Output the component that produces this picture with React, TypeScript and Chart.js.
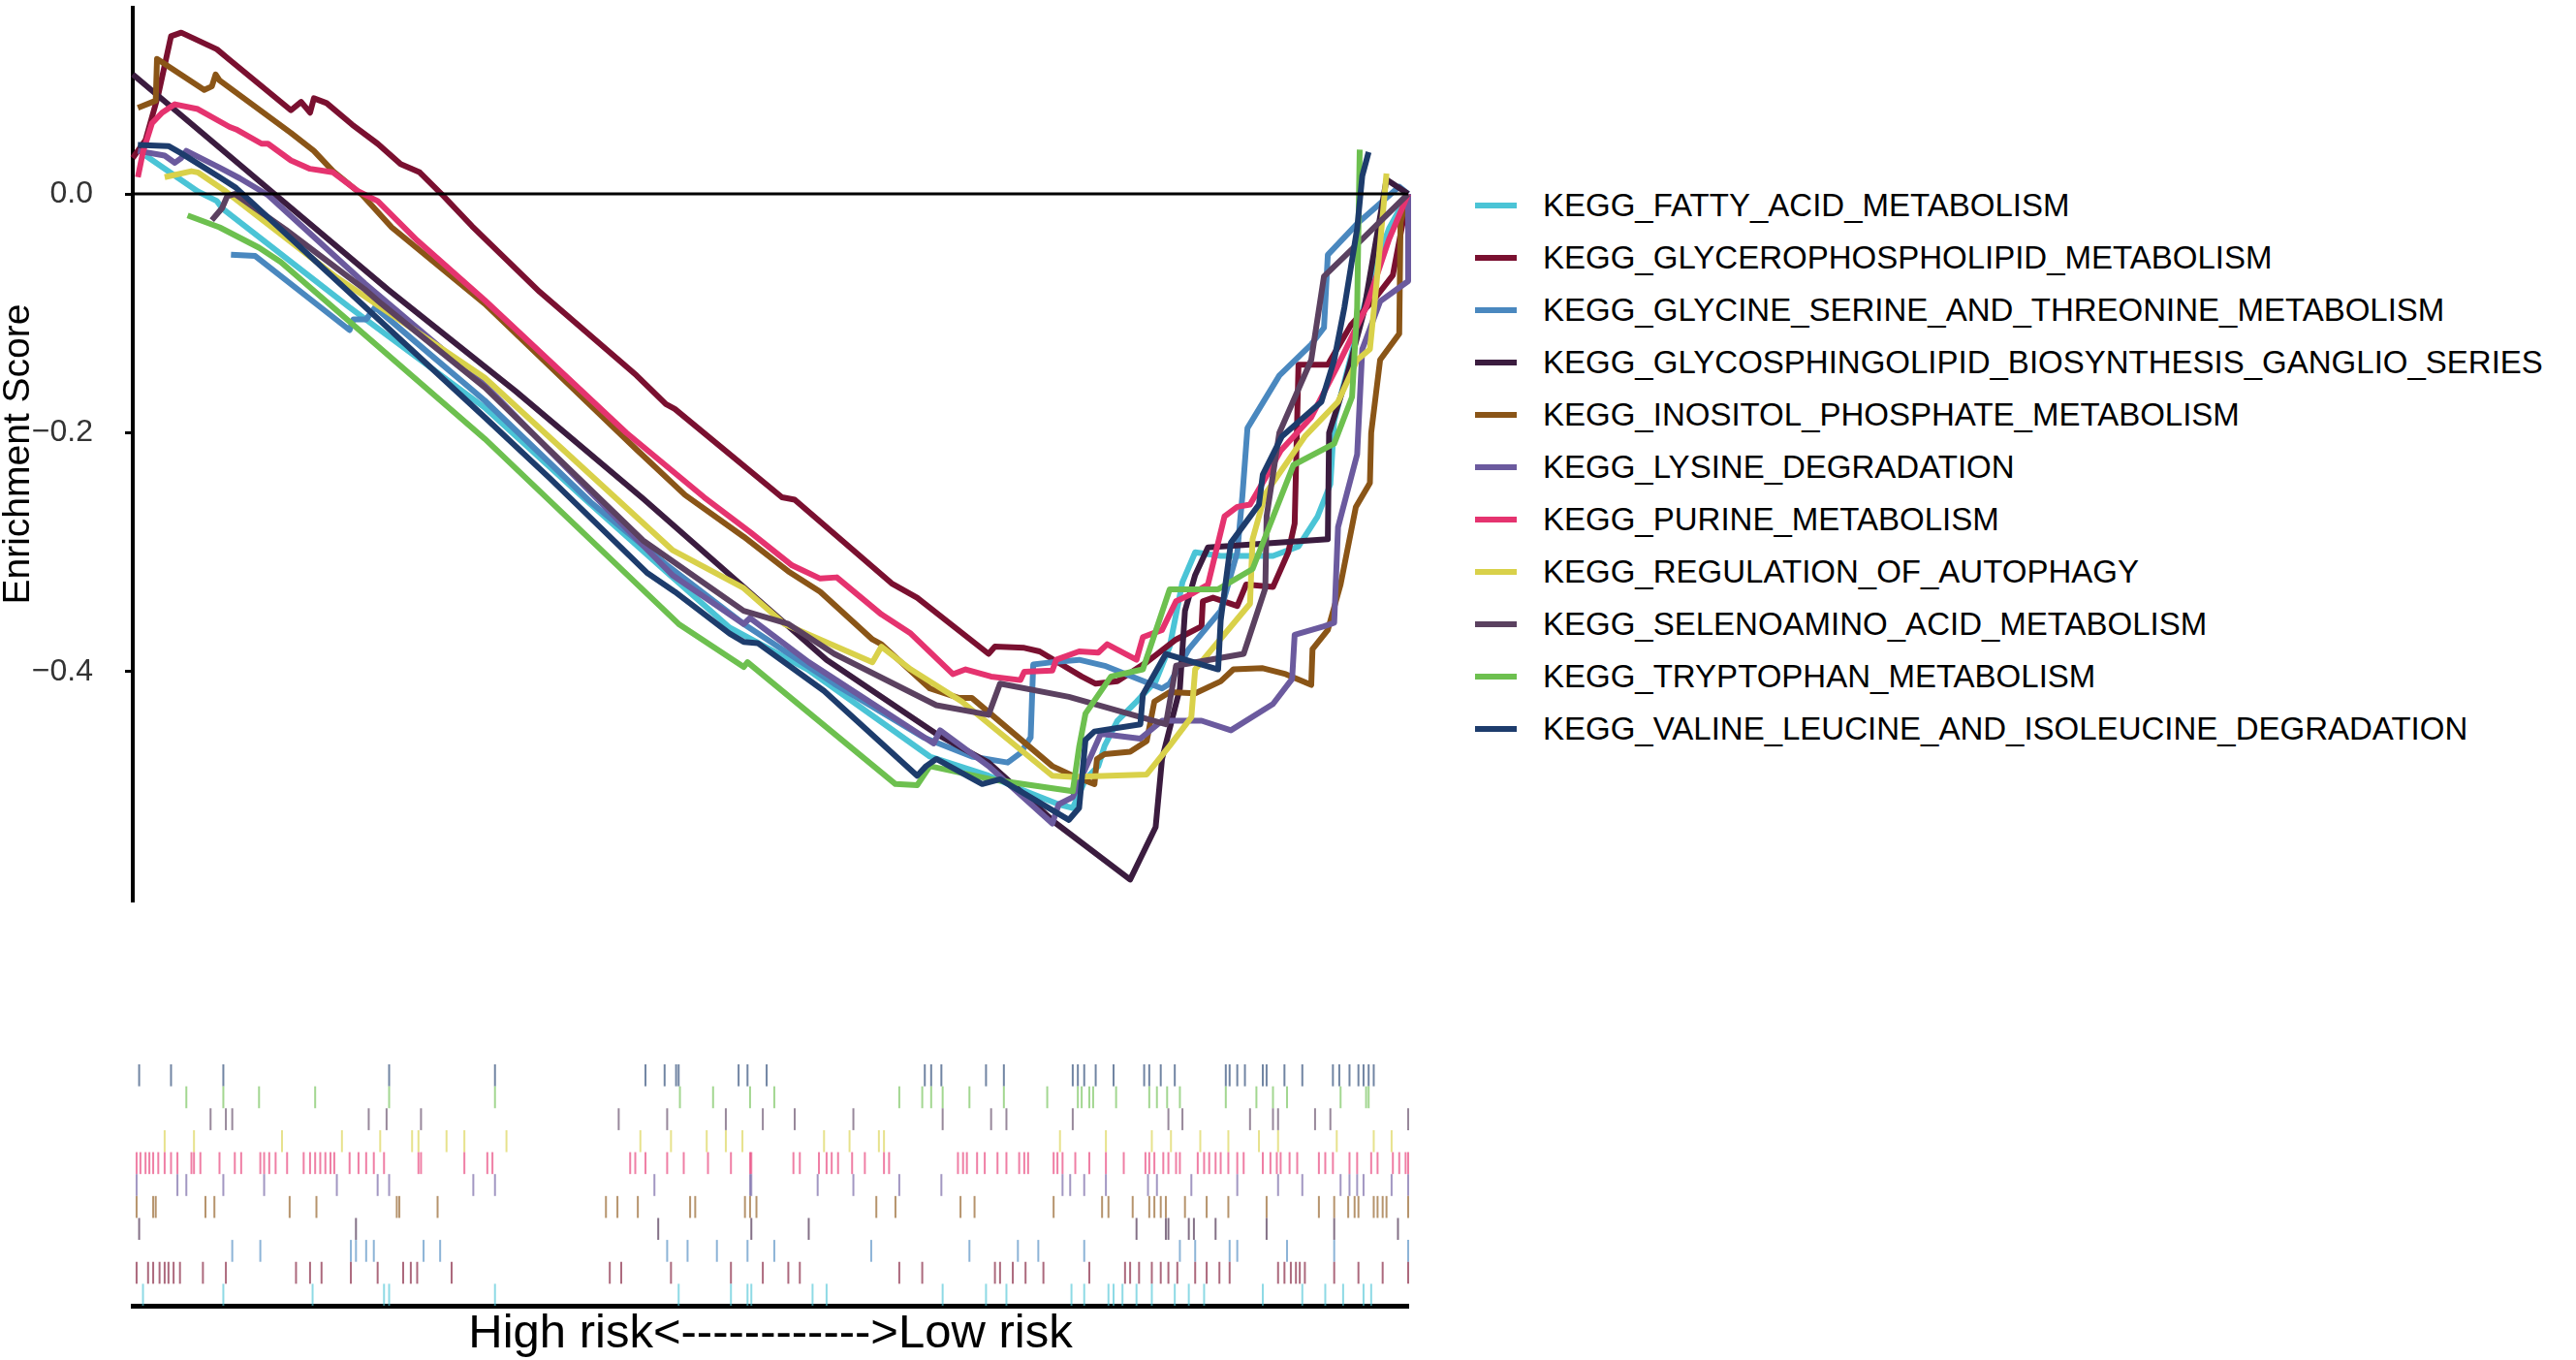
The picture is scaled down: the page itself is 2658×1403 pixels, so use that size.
import { useEffect, useRef } from "react";
import Chart from "chart.js/auto";

type Pt = [number, number];

const FONT = "'Liberation Sans', Arial, Helvetica, sans-serif";

const SERIES_NAMES = [
  "KEGG_FATTY_ACID_METABOLISM",
  "KEGG_GLYCEROPHOSPHOLIPID_METABOLISM",
  "KEGG_GLYCINE_SERINE_AND_THREONINE_METABOLISM",
  "KEGG_GLYCOSPHINGOLIPID_BIOSYNTHESIS_GANGLIO_SERIES",
  "KEGG_INOSITOL_PHOSPHATE_METABOLISM",
  "KEGG_LYSINE_DEGRADATION",
  "KEGG_PURINE_METABOLISM",
  "KEGG_REGULATION_OF_AUTOPHAGY",
  "KEGG_SELENOAMINO_ACID_METABOLISM",
  "KEGG_TRYPTOPHAN_METABOLISM",
  "KEGG_VALINE_LEUCINE_AND_ISOLEUCINE_DEGRADATION",
];

const SERIES_COLORS = [
  "#4BC4D6",
  "#7A1030",
  "#4A88BF",
  "#3B1C3F",
  "#8A5517",
  "#6B5A9E",
  "#E5336F",
  "#D9D14A",
  "#5B4160",
  "#6DC04F",
  "#1D3C6C",
];

// running enrichment score, x = position in ranked list (0-100)
const FATTY_ACID: Pt[] = [
  [1.0, 0.032], [5.1, 0.002], [6.6, -0.006], [7.0, -0.012], [17, -0.095], [27.6, -0.179],
  [35.4, -0.255], [41.8, -0.316], [46.8, -0.363], [52.9, -0.398], [62.5, -0.471], [67.1, -0.487],
  [70, -0.5], [72.6, -0.511], [73.7, -0.514], [74.7, -0.49], [75.7, -0.479], [76.2, -0.462],
  [77.2, -0.441], [78.7, -0.425], [80.2, -0.408], [81.3, -0.379], [82.3, -0.325], [83.3, -0.3],
  [85.3, -0.303], [89.4, -0.303], [91.4, -0.295], [92.9, -0.27], [93.9, -0.243], [94.2, -0.19],
  [96.2, -0.108], [97.3, -0.064], [98.5, -0.029], [100, 0],
];
const GLYCEROPHOSPHOLIPID: Pt[] = [
  [0, 0.03], [1.0, 0.045], [2.0, 0.083], [3.0, 0.132], [3.8, 0.135], [6.6, 0.121], [7.5, 0.113],
  [12.4, 0.07], [13.2, 0.077], [13.9, 0.068], [14.2, 0.08], [15.2, 0.076], [17.2, 0.058],
  [19.2, 0.042], [21.0, 0.025], [22.5, 0.018], [24.2, 0.0], [26.6, -0.027], [31.9, -0.082],
  [39.5, -0.152], [41.8, -0.176], [42.5, -0.18], [50.9, -0.254], [51.9, -0.256], [59.5, -0.326],
  [61.5, -0.338], [67.1, -0.385], [67.6, -0.379], [69.9, -0.38], [71.1, -0.383], [74.4, -0.404],
  [75.5, -0.41], [77.2, -0.408], [79.5, -0.392], [81.8, -0.373], [83.8, -0.362], [83.9, -0.341],
  [84.7, -0.338], [86.6, -0.345], [87.3, -0.327], [89.4, -0.329], [90.6, -0.3], [91.1, -0.276],
  [91.4, -0.143], [93.7, -0.143], [95.5, -0.11], [97.5, -0.086], [98.8, -0.068], [100, 0],
];
const GLYCINE_SERINE: Pt[] = [
  [7.7, -0.051], [9.6, -0.052], [17.0, -0.114], [17.3, -0.105], [18.3, -0.105], [19.0, -0.095],
  [23.5, -0.136], [27.6, -0.173], [35.9, -0.258], [41.8, -0.31], [47.9, -0.36], [55, -0.41],
  [62, -0.455], [65.8, -0.471], [68.6, -0.476], [69.6, -0.468], [70.4, -0.455], [70.6, -0.394],
  [72.1, -0.392], [74.2, -0.39], [76.2, -0.395], [80.7, -0.414], [81.3, -0.41], [82.8, -0.381],
  [85.3, -0.349], [86.6, -0.3], [87.0, -0.253], [87.4, -0.196], [89.9, -0.152], [92.4, -0.126],
  [93.4, -0.112], [93.7, -0.051], [96, -0.025], [99.3, 0.006], [100, 0],
];
const GLYCOSPHINGOLIPID: Pt[] = [
  [0, 0.1], [11.1, 0.0], [20, -0.08], [30, -0.165], [40, -0.255], [54.4, -0.39], [63, -0.452],
  [67.1, -0.476], [72.4, -0.527], [78.2, -0.574], [80.2, -0.53], [80.7, -0.473], [82.1, -0.414],
  [82.5, -0.349], [83.3, -0.319], [84.3, -0.296], [93.7, -0.289], [93.8, -0.2], [95, -0.16],
  [96.5, -0.1], [98.3, 0.012], [100, 0],
];
const INOSITOL_PHOSPHATE: Pt[] = [
  [0.4, 0.072], [1.8, 0.078], [1.9, 0.113], [5.6, 0.087], [6.2, 0.09], [6.5, 0.1], [6.8, 0.095],
  [12.4, 0.051], [14.2, 0.036], [15.7, 0.019], [18.0, -0.001], [20.3, -0.028], [27.6, -0.092],
  [39.5, -0.214], [43.3, -0.252], [47.9, -0.287], [51.4, -0.316], [53.9, -0.333], [58.0, -0.373],
  [58.7, -0.377], [62.5, -0.414], [64.8, -0.422], [65.8, -0.422], [72.1, -0.479], [73.7, -0.487],
  [75.4, -0.494], [75.6, -0.473], [76.2, -0.469], [78.2, -0.467], [79.5, -0.458], [80.1, -0.425],
  [81.3, -0.417], [83.3, -0.418], [85.3, -0.408], [86.3, -0.398], [88.6, -0.397], [90.4, -0.402],
  [92.4, -0.411], [92.5, -0.381], [93.7, -0.365], [94.7, -0.327], [95.9, -0.262], [97.0, -0.242],
  [97.1, -0.2], [97.8, -0.139], [99.3, -0.117], [99.4, -0.024], [100, 0],
];
const LYSINE: Pt[] = [
  [0.4, 0.036], [2.5, 0.032], [3.3, 0.026], [3.8, 0.03], [4.2, 0.036], [6.8, 0.022], [8.4, 0.013],
  [10.6, -0.001], [18.2, -0.075], [27.6, -0.16], [42.3, -0.319], [47.9, -0.36], [48.4, -0.355],
  [53, -0.392], [62.8, -0.46], [63.3, -0.449], [67.1, -0.479], [72.1, -0.527], [72.6, -0.511],
  [73.7, -0.505], [75.9, -0.452], [79, -0.456], [80.7, -0.441], [83.8, -0.441], [86.1, -0.449],
  [89.4, -0.427], [90.9, -0.406], [91.1, -0.369], [93.4, -0.362], [94.2, -0.359], [94.5, -0.279],
  [96, -0.218], [96.4, -0.13], [97.8, -0.09], [100, -0.073], [100, 0],
];
const PURINE: Pt[] = [
  [0.4, 0.014], [0.8, 0.035], [1.5, 0.059], [2.3, 0.068], [3.3, 0.075], [5.1, 0.071], [7.6, 0.056],
  [8.1, 0.054], [10.1, 0.042], [10.6, 0.042], [12.4, 0.028], [13.9, 0.021], [15.7, 0.018],
  [17.7, 0.002], [19.2, -0.006], [22.3, -0.039], [27.6, -0.089], [38.7, -0.2], [44.8, -0.254],
  [48.4, -0.283], [51.7, -0.311], [53.9, -0.322], [55.2, -0.321], [58.7, -0.352], [61, -0.368],
  [64.3, -0.402], [65.3, -0.398], [67.3, -0.404], [69.6, -0.407], [69.9, -0.4], [72.1, -0.399],
  [72.4, -0.39], [74.2, -0.383], [75.7, -0.384], [76.4, -0.377], [78.7, -0.39], [79.2, -0.371],
  [80.7, -0.365], [81.8, -0.341], [83.0, -0.335], [84.3, -0.327], [85.6, -0.27], [86.6, -0.262],
  [87.6, -0.26], [88.8, -0.238], [90, -0.215], [92.4, -0.187], [94.7, -0.139], [96.7, -0.095],
  [98.5, -0.038], [100, 0],
];
const REGULATION_OF_AUTOPHAGY: Pt[] = [
  [2.5, 0.014], [4.6, 0.019], [5.1, 0.018], [7.3, 0.002], [16, -0.07], [27.6, -0.154],
  [42.3, -0.298], [47.9, -0.33], [51.1, -0.36], [58, -0.392], [58.7, -0.379], [61, -0.398],
  [65, -0.425], [72.1, -0.487], [73.7, -0.488], [79.5, -0.486], [81.3, -0.462], [83, -0.438],
  [83.3, -0.398], [87.6, -0.343], [87.8, -0.289], [88.8, -0.251], [91.9, -0.203], [94.5, -0.174],
  [96, -0.139], [97, -0.13], [97.5, -0.077], [98.3, 0.017],
];
const SELENOAMINO: Pt[] = [
  [6.2, -0.022], [7.0, -0.012], [7.4, -0.002], [8.0, 0.0], [12, -0.03], [18.2, -0.08],
  [19.5, -0.092], [27.6, -0.162], [40, -0.29], [47.9, -0.349], [51.4, -0.36], [55, -0.385],
  [63, -0.428], [67.1, -0.436], [68, -0.41], [73.4, -0.421], [81, -0.444], [81.8, -0.395],
  [87.1, -0.385], [88.8, -0.33], [88.9, -0.27], [89.9, -0.2], [92.4, -0.139], [93.4, -0.069],
  [96, -0.042], [100, 0],
];
const TRYPTOPHAN: Pt[] = [
  [4.3, -0.018], [6.8, -0.028], [9.9, -0.045], [11.6, -0.057], [27.6, -0.205], [42.8, -0.36],
  [47.9, -0.396], [48.2, -0.392], [49.9, -0.407], [59.8, -0.494], [61.5, -0.495], [62.5, -0.479],
  [67.3, -0.49], [73.7, -0.5], [74.2, -0.463], [74.7, -0.435], [76.7, -0.404], [79.2, -0.398],
  [81.3, -0.331], [85.1, -0.331], [87.8, -0.314], [90.9, -0.23], [91, -0.227], [94.2, -0.209],
  [95.6, -0.17], [96, -0.095], [96.2, 0.037],
];
const VALINE: Pt[] = [
  [0.4, 0.041], [2.8, 0.04], [3.8, 0.034], [6.8, 0.014], [8.1, 0.005], [27.6, -0.187],
  [32.7, -0.238], [40.3, -0.317], [42.5, -0.333], [46.8, -0.368], [47.9, -0.375], [49, -0.376],
  [54.2, -0.416], [61.5, -0.487], [62.2, -0.479], [63.0, -0.473], [66.6, -0.494], [68, -0.49],
  [73.4, -0.524], [74.2, -0.514], [74.7, -0.457], [75.4, -0.45], [79.0, -0.444], [79.2, -0.419],
  [81.0, -0.385], [85.1, -0.398], [85.3, -0.357], [86.1, -0.292], [88.3, -0.26], [88.6, -0.235],
  [90.1, -0.203], [93.2, -0.174], [94.2, -0.139], [95, -0.095], [96, -0.029], [96.4, 0.015],
  [96.9, 0.035],
];

const SERIES_DATA = [
  FATTY_ACID, GLYCEROPHOSPHOLIPID, GLYCINE_SERINE, GLYCOSPHINGOLIPID, INOSITOL_PHOSPHATE,
  LYSINE, PURINE, REGULATION_OF_AUTOPHAGY, SELENOAMINO, TRYPTOPHAN, VALINE,
];

// gene hit positions for the rug panel (same order, drawn bottom to top)
const HITS_FATTY_ACID = [
  0.8, 7.1, 14.1, 19.7, 20.1, 28.4, 42.8, 46.9, 48.2, 48.5, 53.3, 54.4, 63.5, 66.9, 68.5, 73.6,
  74.6, 76.5, 76.9, 77.6, 78.7, 79.9, 81.7, 82.8, 84.0, 88.6, 91.7, 93.5, 94.9, 96.5, 97.1,
];
const HITS_GLYCEROPHOSPHOLIPID = [
  0.3, 1.2, 1.6, 2.1, 2.5, 2.8, 3.2, 3.7, 5.5, 7.3, 12.8, 13.9, 14.8, 17.1, 19.2, 21.2, 21.8,
  22.3, 25.0, 37.4, 38.3, 42.2, 46.9, 49.4, 51.4, 52.3, 60.1, 61.9, 67.6, 68.0, 69.0, 70.0, 71.4,
  75.0, 77.8, 78.2, 78.9, 79.9, 80.6, 81.2, 81.9, 83.3, 84.2, 85.2, 86.0, 89.8, 90.3, 90.8, 91.2,
  91.5, 91.9, 94.2, 96.1, 98.0, 100,
];
const HITS_GLYCINE_SERINE = [
  7.8, 10.0, 17.1, 17.5, 18.3, 18.9, 22.8, 24.1, 41.9, 43.5, 45.8, 48.2, 50.3, 57.9, 65.6, 69.4,
  71.0, 74.6, 82.1, 83.3, 86.0, 86.6, 90.5, 94.2, 100,
];
const HITS_GLYCOSPHINGOLIPID = [
  0.5, 17.5, 41.2, 48.5, 53.0, 78.7, 81.0, 81.2, 82.8, 83.2, 84.9, 88.9, 94.2, 99.2,
];
const HITS_INOSITOL_PHOSPHATE = [
  0.3, 1.6, 1.8, 5.7, 6.4, 12.3, 14.4, 20.7, 20.9, 23.9, 37.1, 38.0, 39.6, 43.7, 44.1, 48.0, 48.4,
  48.9, 58.3, 59.8, 64.9, 66.0, 72.2, 76.0, 76.5, 78.4, 79.7, 80.1, 80.6, 81.0, 82.5, 84.2, 85.9,
  88.9, 93.0, 94.2, 95.3, 95.8, 96.1, 97.3, 97.6, 98.0, 98.3, 100,
];
const HITS_LYSINE = [
  0.3, 3.5, 4.2, 7.1, 10.3, 16.0, 19.2, 20.1, 26.7, 28.4, 40.9, 48.4, 48.5, 53.7, 56.5, 60.1,
  63.4, 72.9, 73.5, 74.6, 76.3, 79.6, 80.3, 83.0, 86.6, 89.8, 91.7, 94.7, 95.4, 96.0, 96.5, 98.7,
  100,
];
const HITS_PURINE = [
  0.3, 0.6, 1.0, 1.3, 1.6, 2.0, 2.5, 3.0, 3.5, 4.6, 4.8, 5.3, 6.8, 8.0, 8.5, 10.0, 10.3, 10.7,
  11.2, 12.1, 13.4, 13.9, 14.3, 14.7, 15.1, 15.5, 15.8, 17.0, 17.7, 18.3, 18.9, 19.7, 22.4, 22.6,
  26.0, 27.8, 28.2, 39.0, 39.4, 40.2, 41.9, 43.2, 45.1, 46.9, 48.4, 48.5, 51.8, 52.3, 53.8, 54.4,
  54.8, 55.3, 56.4, 57.4, 58.9, 59.3, 64.7, 65.1, 65.4, 66.2, 66.8, 67.8, 68.5, 69.5, 69.9, 70.2,
  72.2, 72.5, 72.9, 73.9, 75.0, 76.3, 77.7, 79.4, 79.7, 80.1, 80.8, 81.2, 81.8, 82.1, 83.5, 84.0,
  84.4, 84.9, 85.3, 85.9, 86.6, 87.1, 88.6, 89.2, 89.7, 90.0, 90.7, 91.3, 93.0, 93.5, 94.1, 95.4,
  96.0, 97.1, 97.6, 98.8, 99.3, 99.8, 100,
];
const HITS_REGULATION_OF_AUTOPHAGY = [
  2.5, 4.8, 11.7, 16.4, 19.4, 21.9, 22.4, 24.6, 26.0, 29.3, 39.8, 42.2, 45.0, 46.5, 47.8, 54.2,
  56.2, 58.5, 58.9, 72.7, 76.3, 79.9, 81.4, 83.7, 85.9, 88.3, 89.8, 94.4, 97.3, 98.7,
];
const HITS_SELENOAMINO = [
  6.1, 7.3, 7.8, 18.5, 19.9, 22.6, 38.1, 41.9, 46.5, 49.4, 51.9, 56.5, 63.5, 67.3, 68.5, 73.7,
  81.2, 82.3, 87.6, 89.4, 89.8, 92.7, 93.9, 100,
];
const HITS_TRYPTOPHAN = [
  4.2, 7.1, 9.9, 14.3, 20.1, 28.4, 42.9, 45.5, 48.4, 50.3, 60.1, 61.9, 62.6, 63.5, 65.6, 68.3,
  71.7, 74.1, 74.4, 75.0, 75.3, 77.1, 79.7, 80.3, 81.1, 82.1, 85.7, 88.1, 89.4, 90.5, 94.7, 96.7,
  96.9,
];
const HITS_VALINE = [
  0.5, 3.0, 7.1, 20.1, 28.4, 40.2, 41.7, 42.6, 42.8, 47.5, 48.2, 49.7, 62.1, 62.6, 63.4, 66.9,
  68.3, 73.7, 74.1, 74.6, 75.5, 76.9, 79.3, 79.7, 80.6, 81.7, 85.7, 86.0, 86.6, 87.2, 88.6, 88.9,
  90.3, 91.7, 94.1, 94.6, 95.4, 96.1, 96.5, 96.9, 97.3,
];

const HIT_SETS = [
  HITS_FATTY_ACID, HITS_GLYCEROPHOSPHOLIPID, HITS_GLYCINE_SERINE, HITS_GLYCOSPHINGOLIPID,
  HITS_INOSITOL_PHOSPHATE, HITS_LYSINE, HITS_PURINE, HITS_REGULATION_OF_AUTOPHAGY,
  HITS_SELENOAMINO, HITS_TRYPTOPHAN, HITS_VALINE,
];

const Y_TICKS = [0, -0.2, -0.4];
const Y_LABEL = "Enrichment Score";
const X_LABEL = "High risk<------------>Low risk";

export default function App() {
  const topRef = useRef<HTMLCanvasElement | null>(null);
  const rugRef = useRef<HTMLCanvasElement | null>(null);
  const topChartRef = useRef<Chart | null>(null);
  const rugChartRef = useRef<Chart | null>(null);

  useEffect(() => {
    if (!topRef.current || !rugRef.current) return;
    Chart.defaults.font.family = FONT;

    // horizontal reference line at ES = 0, drawn over the curves
    const zeroLine = {
      id: "zeroLine",
      afterDatasetsDraw(chart: any) {
        const { ctx, chartArea, scales } = chart;
        const y = scales.y.getPixelForValue(0);
        ctx.save();
        ctx.strokeStyle = "#000";
        ctx.lineWidth = 3;
        ctx.beginPath();
        ctx.moveTo(chartArea.left, y);
        ctx.lineTo(scales.x.getPixelForValue(100), y);
        ctx.stroke();
        ctx.restore();
      },
    };

    topChartRef.current?.destroy();
    topChartRef.current = new Chart(topRef.current, {
      type: "line",
      data: {
        datasets: SERIES_NAMES.map((name, i) => ({
          label: name,
          data: SERIES_DATA[i].map(([x, y]) => ({ x, y })),
          borderColor: SERIES_COLORS[i],
          backgroundColor: SERIES_COLORS[i],
          borderWidth: 6,
          borderJoinStyle: "round" as const,
          pointRadius: 0,
          tension: 0,
          order: SERIES_NAMES.length - i,
          clip: false as any,
        })),
      },
      options: {
        responsive: false,
        animation: false,
        layout: { padding: { top: 8, bottom: 31, left: 0, right: 27 } },
        plugins: { legend: { display: false }, tooltip: { enabled: false } },
        scales: {
          x: { type: "linear", min: 0, max: 100, display: false },
          y: {
            type: "linear",
            min: -0.5915,
            max: 0.1558,
            afterFit: (s: any) => {
              s.width = 137;
              s.paddingTop = 0;
              s.paddingBottom = 0;
            },
            afterBuildTicks: (s: any) => {
              s.ticks = Y_TICKS.map((v) => ({ value: v }));
            },
            ticks: {
              callback: (v: any) => Number(v).toFixed(1).replace("-", "\u2212"),
              color: "#333",
              font: { size: 32 },
              padding: 33,
            },
            grid: {
              display: true,
              drawOnChartArea: false,
              drawTicks: true,
              tickLength: 8,
              color: "#000",
              lineWidth: 3,
            },
            border: { display: true, color: "#000", width: 4 },
            title: {
              display: true,
              text: Y_LABEL,
              color: "#000",
              font: { size: 39, lineHeight: 1 },
              padding: 0,
            },
          },
        },
      },
      plugins: [zeroLine],
    });

    rugChartRef.current?.destroy();
    rugChartRef.current = new Chart(rugRef.current, {
      type: "scatter",
      data: {
        datasets: HIT_SETS.map((hits, i) => ({
          label: SERIES_NAMES[i],
          data: hits.map((x) => ({ x, y: i })),
          pointStyle: "line" as const,
          rotation: 90,
          pointRadius: 11.3,
          borderWidth: 2,
          borderColor: SERIES_COLORS[i] + "A0",
          backgroundColor: SERIES_COLORS[i] + "A0",
          clip: false as any,
        })),
      },
      options: {
        responsive: false,
        animation: false,
        layout: { padding: { top: 18, left: 137, right: 27, bottom: 0 } },
        plugins: { legend: { display: false }, tooltip: { enabled: false } },
        scales: {
          x: {
            type: "linear",
            min: 0,
            max: 100,
            position: "bottom",
            afterFit: (s: any) => {
              s.height = 54;
            },
            ticks: { display: false },
            grid: { display: false },
            border: { display: true, color: "#000", width: 5 },
            title: {
              display: true,
              text: X_LABEL,
              color: "#000",
              font: { size: 49, lineHeight: 1 },
              padding: 0,
            },
          },
          y: { type: "linear", min: -0.5, max: 10.5, display: false },
        },
      },
    });

    return () => {
      topChartRef.current?.destroy();
      rugChartRef.current?.destroy();
      topChartRef.current = null;
      rugChartRef.current = null;
    };
  }, []);

  return (
    <div
      style={{
        position: "absolute",
        left: 0,
        top: 0,
        width: 2658,
        height: 1403,
        overflow: "hidden",
        background: "#fff",
        fontFamily: FONT,
      }}
    >
      <canvas
        ref={topRef}
        width={1480}
        height={960}
        style={{ position: "absolute", left: 0, top: 0, width: 1480, height: 960 }}
      />
      <canvas
        ref={rugRef}
        width={1480}
        height={321}
        style={{ position: "absolute", left: 0, top: 1080, width: 1480, height: 321 }}
      />
      <div style={{ position: "absolute", left: 1522, top: 184.5 }}>
        {SERIES_NAMES.map((name, i) => (
          <div key={name} style={{ display: "flex", alignItems: "center", height: 54 }}>
            <div style={{ width: 43, height: 6, background: SERIES_COLORS[i], marginRight: 27 }} />
            <div style={{ fontSize: 33, lineHeight: 1, color: "#000", whiteSpace: "nowrap" }}>{name}</div>
          </div>
        ))}
      </div>
    </div>
  );
}
